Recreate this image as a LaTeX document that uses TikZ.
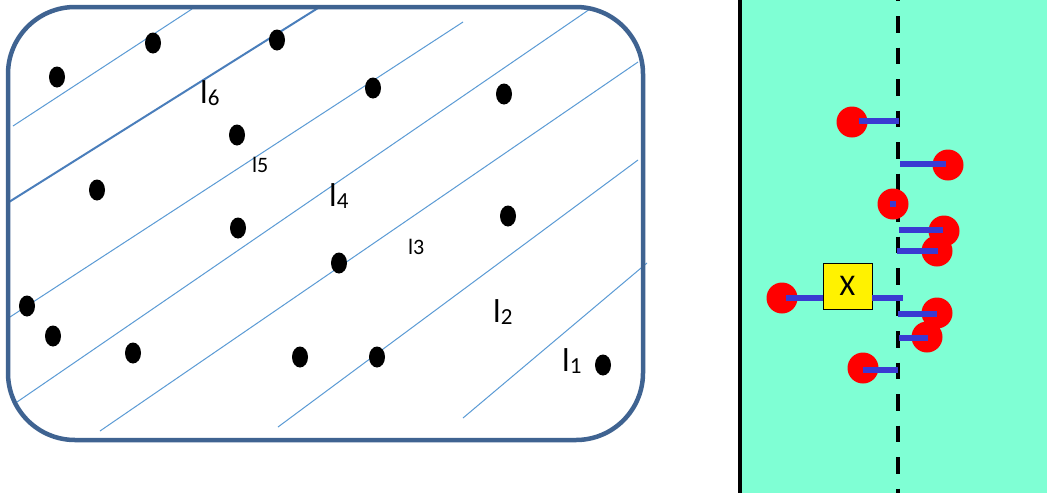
\documentclass[tikz,border=0pt]{standalone}
\usepackage{fontspec}
\setmainfont{Carlito}
\usetikzlibrary{shapes.geometric,calc}
\definecolor{boxblue}{HTML}{3F6391}
\definecolor{lineblue}{HTML}{5B9BD5}
\definecolor{thickblue}{HTML}{4A7EBB}
\definecolor{aqua}{HTML}{7FFFD4}
\definecolor{barblue}{HTML}{3A3AD2}
\newcommand{\biglab}[1]{{\fontsize{33}{33}\selectfont l}\raisebox{-2pt}{\fontsize{23}{23}\selectfont #1}}
\newcommand{\smalllab}[1]{{\fontsize{22}{22}\selectfont l#1}}
\begin{document}
\begin{tikzpicture}[x=1pt,y=-1pt,
  dot/.style={ellipse,fill=black,minimum width=16pt,minimum height=21pt,inner sep=0pt},
  hatch/.style={draw=lineblue,line width=1pt},
  hatchthick/.style={draw=thickblue,line width=2pt},
  lab/.style={anchor=base west,inner sep=0pt,text=black},
  blob/.style={circle,fill=red,minimum size=31pt,inner sep=0pt},
  bar/.style={draw=barblue,line width=6pt},
  xbox/.style={draw=black,line width=0.8pt,fill=yellow,minimum width=49pt,minimum height=46pt,inner sep=0pt,font=\fontsize{30}{30}\selectfont}]
\useasboundingbox (0,0) rectangle (1047,493);
\fill[white] (0,0) rectangle (1047,493);
% right panel
\fill[aqua] (740,0) rectangle (1047,493);
\draw[black,line width=4pt] (740,0) -- (740,493);
\draw[black,line width=3.2pt,dash pattern=on 16.5pt off 15pt] (898,-15.5) -- (898,493);
% left panel hatch lines
\draw[hatch] (13,126) -- (192,9);
\draw[hatchthick] (9,202) -- (318,8);
\draw[hatch] (10,317) -- (463,22);
\draw[hatch] (17,402) -- (590,9);
\draw[hatch] (100,431) -- (638,62);
\draw[hatch] (278,427) -- (638,160);
\draw[hatch] (463,418) -- (647,263);
% border
\draw[boxblue,line width=4.5pt,rounded corners=67pt] (8,7) rectangle (643,440);
% dots
\node[dot] (d1) at (57,77) {};
\node[dot] (d2) at (153,43) {};
\node[dot] (d3) at (277,40) {};
\node[dot] (d4) at (373,88) {};
\node[dot] (d5) at (504,94) {};
\node[dot] (d6) at (237,135) {};
\node[dot] (d7) at (97,190) {};
\node[dot] (d8) at (508,216) {};
\node[dot] (d9) at (238,228) {};
\node[dot] (d10) at (339,263) {};
\node[dot] (d11) at (27,306) {};
\node[dot] (d12) at (53,336) {};
\node[dot] (d13) at (133,353) {};
\node[dot] (d14) at (300,357) {};
\node[dot] (d15) at (377,357) {};
\node[dot] (d16) at (603,365) {};
% labels
\node[lab] (l6) at (200,103) {\biglab{6}};
\node[lab] (l5) at (252,172) {\smalllab{5}};
\node[lab] (l4) at (329,206) {\biglab{4}};
\node[lab] (l3) at (408,254) {\smalllab{3}};
\node[lab] (l2) at (493,322) {\biglab{2}};
\node[lab] (l1) at (562,371) {\biglab{1}};
% right panel blobs
\node[blob] (b1) at (852,122) {};
\node[blob] (b2) at (948,165) {};
\node[blob] (b3) at (893,204) {};
\node[blob] (b4) at (944,231) {};
\node[blob] (b5) at (937,251) {};
\node[blob] (bx) at (782,298) {};
\node[blob] (b6) at (937,313) {};
\node[blob] (b7) at (927,337) {};
\node[blob] (b8) at (863,368) {};
\node[xbox] (x) at (847.5,286) {X};
% dashed-line ends of the bars
\coordinate (e1) at (899,121);
\coordinate (e2) at (900,164);
\coordinate (e4) at (899,230);
\coordinate (e5) at (897,251);
\coordinate (ex) at (903,298);
\coordinate (e6) at (898,314);
\coordinate (e7) at (899,338);
\coordinate (e8) at (898,370);
% bars
\draw[bar] ($(b1.center)+(7,-1)$) -- (e1);
\draw[bar] (e2) -- (946,164);
\draw[bar] (e4) -- (943,230);
\draw[bar] (e5) -- (938,251);
\draw[bar] ($(bx.center)+(4,0)$) -- (bx.center -| x.west);
\draw[bar] (ex -| x.east) -- (ex);
\draw[bar] (e6) -- (937,314);
\draw[bar] (e7) -- (928,338);
\draw[bar] ($(b8.center)+(0,2)$) -- (e8);
\fill[barblue] ($(b3.center)+(-3,-3)$) rectangle ($(b3.center)+(3,3)$);
\end{tikzpicture}
\end{document}
